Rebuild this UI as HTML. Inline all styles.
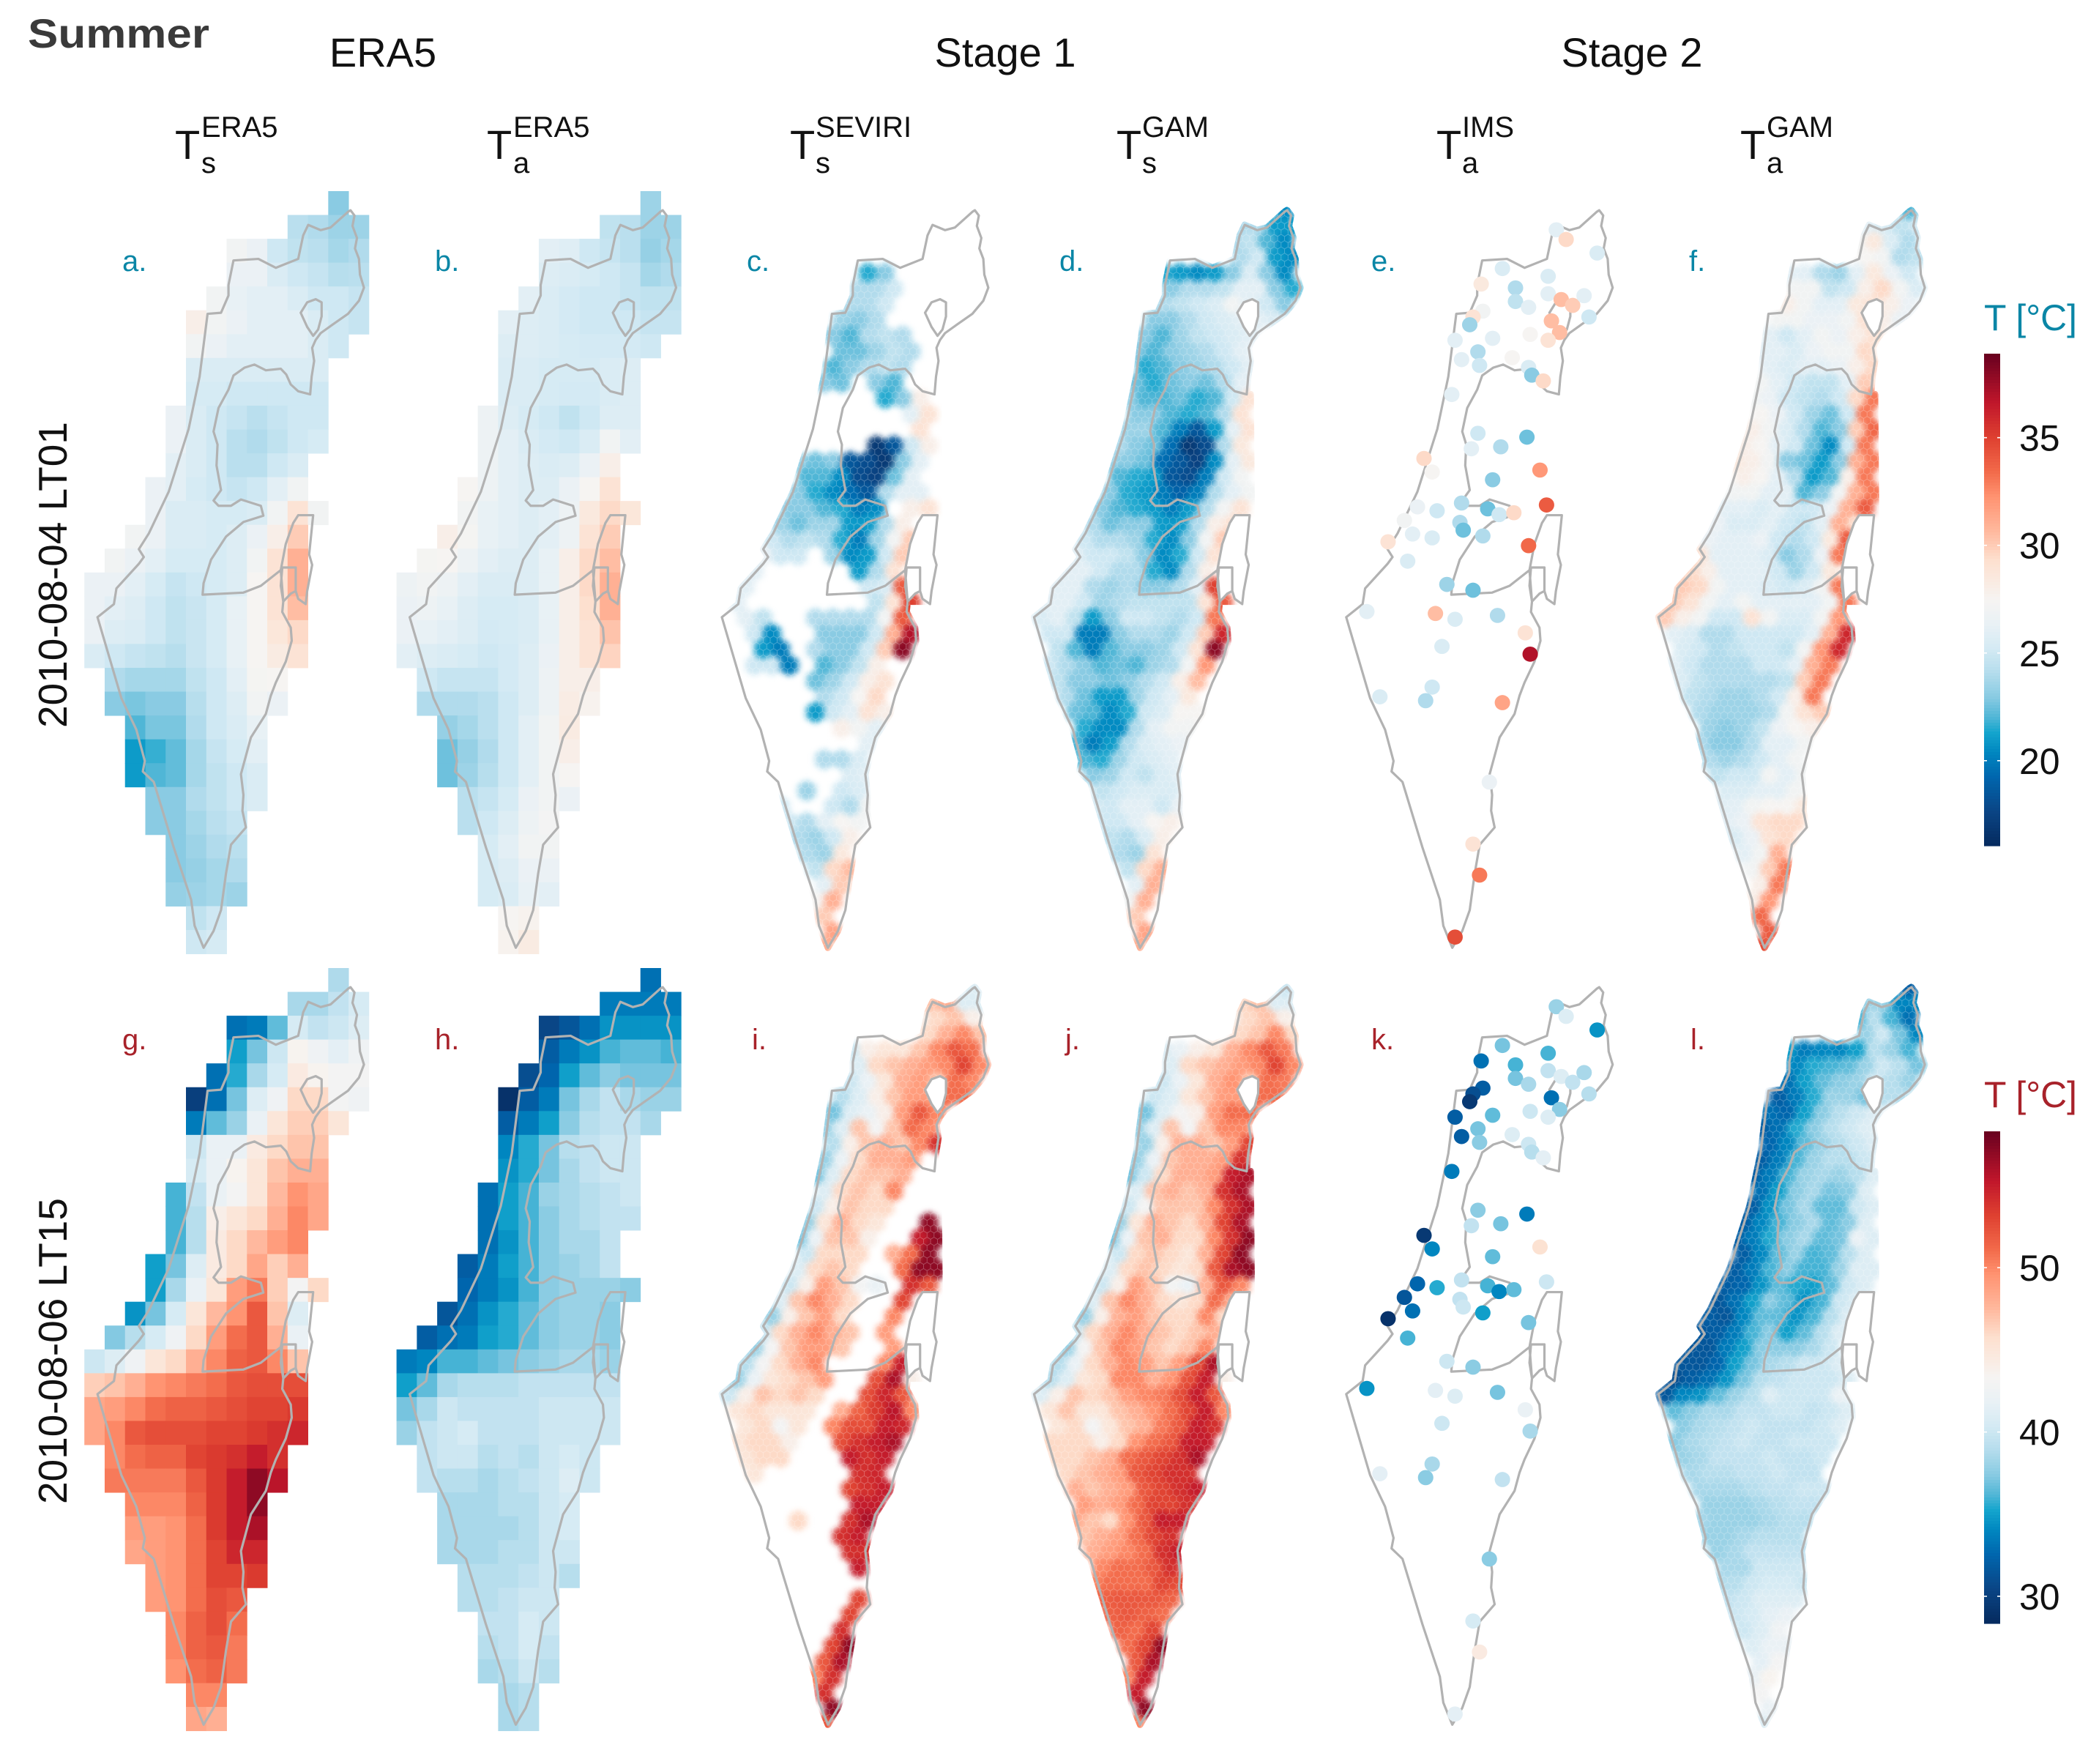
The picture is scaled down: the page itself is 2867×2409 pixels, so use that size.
<!DOCTYPE html>
<html lang="en">
<head>
<meta charset="utf-8">
<title>Summer temperature maps</title>
<style>
html,body{margin:0;padding:0;background:#fff;}
svg{display:block;}
text{font-family:"Liberation Sans",sans-serif;}
</style>
</head>
<body>
<svg id="chart" xmlns="http://www.w3.org/2000/svg" width="2867" height="2409" viewBox="0 0 2867 2409">
<rect width="2867" height="2409" fill="#fff"/>
<defs>
<filter id="soft" x="-10%" y="-10%" width="120%" height="120%" color-interpolation-filters="sRGB"><feGaussianBlur stdDeviation="6.5 5.5"/></filter>
<pattern id="hexMesh" patternUnits="userSpaceOnUse" width="14" height="24">
<path d="M7,0L14,4L14,12L7,16L7,24M7,16L0,12L0,4L7,0" fill="none" stroke="#fff" stroke-width="1.3" stroke-opacity="0.28"/>
</pattern>
<mask id="landMask" maskUnits="userSpaceOnUse" x="-100" y="0" width="900" height="1700">
<g fill="#fff" stroke="#fff" stroke-width="13" stroke-linejoin="round">
<path id="maskMain"/>
<polygon points="484,474 492,474 494,705 490,800 480,870 430,870 268,857 290,545 330,438 372,417 425,425 445,455"/>
</g>
<g fill="#000"><path id="maskLakes"/></g>
</mask>
</defs>

<text x="38" y="65" font-size="56" font-weight="bold" fill="#3a3a3a" textLength="248" lengthAdjust="spacingAndGlyphs">Summer</text>
<text x="523" y="91" font-size="56" text-anchor="middle" fill="#111">ERA5</text>
<text x="1373" y="91" font-size="56" text-anchor="middle" fill="#111">Stage 1</text>
<text x="2229" y="91" font-size="56" text-anchor="middle" fill="#111">Stage 2</text>

<g fill="#111"><text x="239" y="217" font-size="56">T</text><text x="275" y="187" font-size="40">ERA5</text><text x="275" y="236" font-size="40">s</text></g>
<g fill="#111"><text x="665" y="217" font-size="56">T</text><text x="701" y="187" font-size="40">ERA5</text><text x="701" y="236" font-size="40">a</text></g>
<g fill="#111"><text x="1079" y="217" font-size="56">T</text><text x="1114" y="187" font-size="40">SEVIRI</text><text x="1114" y="236" font-size="40">s</text></g>
<g fill="#111"><text x="1525" y="217" font-size="56">T</text><text x="1560" y="187" font-size="40">GAM</text><text x="1560" y="236" font-size="40">s</text></g>
<g fill="#111"><text x="1962" y="217" font-size="56">T</text><text x="1997" y="187" font-size="40">IMS</text><text x="1997" y="236" font-size="40">a</text></g>
<g fill="#111"><text x="2377" y="217" font-size="56">T</text><text x="2413" y="187" font-size="40">GAM</text><text x="2413" y="236" font-size="40">a</text></g>

<text transform="translate(91,785) rotate(-90)" font-size="55" text-anchor="middle" fill="#111">2010-08-04 LT01</text>
<text transform="translate(91,1845) rotate(-90)" font-size="55" text-anchor="middle" fill="#111">2010-08-06 LT15</text>

<g id="maps"></g>

<g id="labels" font-size="40">
<text x="167" y="370" fill="#0a86a6">a.</text>
<text x="594" y="370" fill="#0a86a6">b.</text>
<text x="1020" y="370" fill="#0a86a6">c.</text>
<text x="1447" y="370" fill="#0a86a6">d.</text>
<text x="1873" y="370" fill="#0a86a6">e.</text>
<text x="2307" y="370" fill="#0a86a6">f.</text>
<text x="167" y="1433" fill="#a8222a">g.</text>
<text x="594" y="1433" fill="#a8222a">h.</text>
<text x="1027" y="1433" fill="#a8222a">i.</text>
<text x="1455" y="1433" fill="#a8222a">j.</text>
<text x="1873" y="1433" fill="#a8222a">k.</text>
<text x="2309" y="1433" fill="#a8222a">l.</text>
</g>

<text x="2710" y="451" font-size="50" fill="#0a86a6" textLength="127" lengthAdjust="spacingAndGlyphs">T [°C]</text>
<text x="2710" y="1512" font-size="50" fill="#a8222a" textLength="127" lengthAdjust="spacingAndGlyphs">T [°C]</text>
<g id="legends"></g>
</svg>

<script>
const _ = null;

/* Colour bar domains and tick labels */
const topDomain = [16.05, 38.9];
const bottomDomain = [28.35, 58.3];
const topTicks = [20, 25, 30, 35];
const bottomTicks = [30, 40, 50];

/* ERA5 grid: first occupied column of each row */
const eraFirstCol = [12,10,7,7,6,5,5,5,5,4,4,4,3,3,2,1,0,0,0,0,1,1,2,2,2,3,3,4,4,4,5,5];

const eraTsMorning = [
[23],
[24.3,24,23.5,23.5],
[27,26.5,25,24.5,24.3,23.7,24],
[26.5,26.5,25.5,25,24.7,24.2,24.3],
[27,26.3,26,26,25.5,25,25,24.7],
[28,27,26.5,26,26,26,25.5,25,24.7],
[27,26.5,26,26,26,26,25.5,25],
[25.5,25.5,25.5,25.5,25.5,25.5,25.5],
[25.3,25.3,25,25,25,25,25],
[26.5,25.5,25,24.7,24.3,24.7,25,25],
[26.5,25.5,25,24.3,24,24.5,25,25.3],
[26,25.5,25,24.3,24.3,25,25.5],
[26.5,26,25.3,25,24.7,25,26,27],
[26.5,25.5,25.5,25.3,25.3,25.5,27,29,27],
[27,26.5,25.5,25.5,25.3,25.7,26.5,28,30],
[27,26.5,26,25.3,25.3,25.3,25.7,27,29,31],
[26.5,26.5,26,25.3,24.7,25,25.3,25.7,27.5,29,31],
[26.5,26,25.7,25,24.5,24.8,25.3,26.3,27.5,29,30.5],
[26.5,25.7,25.5,25,24.5,24.8,25.3,26.3,27.5,28.7,29.5],
[25.5,25,24.7,24.5,24.2,24.8,25.3,26.3,27.5,28.3,29],
[24,23.7,23.7,23.7,24.5,25,26,27.3,27.5],
[23,22.7,23,23,24.2,25,25.7,27,26.5],
[22,22.7,22.7,24,25,25.5,26.3],
[21,21.7,22.3,23.7,24.7,25.3,26],
[21,22,22.3,23.7,24.5,25,25.5],
[23,23,24,24.5,25,25.5],
[23,23,23.7,24.3,24.7],
[23,23.5,24,24.3],
[23,23.3,23.7,24],
[23.3,23.5,23.7,23.5],
[24.5,25],
[25,25.3]];

const eraTaMorning = [
[23.5],
[24.5,24.3,23.5,23.5],
[26,25.8,25,24.7,24.3,23.3,23.7],
[25.7,25.5,25.3,25,24.7,23.7,24],
[26,25.5,25.2,25,25,24.7,24.5,24.5],
[26,25.7,25.5,25.2,25,25,25,24.7,24.7],
[25.7,25.7,25.5,25.3,25.2,25.2,25.2,25],
[25.5,25.5,25.3,25.3,25.3,25.5,25.7],
[25.5,25.5,25.3,25.2,25.2,25.5,25.7],
[26.7,25.7,25.3,25,24.5,25,25.7,25.7],
[26.7,26,25.5,25.2,25,25.5,27,26],
[26.7,26,25.7,25.5,25.7,26.5,28],
[27.5,26.7,26,25.7,25.7,26.5,27.5,29],
[27,26.3,26,25.7,26,26.7,28.5,29.5,28.7],
[28,27.3,26.3,26,25.7,26,26.7,29,30],
[27.3,27.5,26.7,26,25.7,25.7,26.3,28,29.5,30.5],
[26.7,27,26.7,26,25.5,25.5,25.7,26.3,28,29.5,31],
[26.5,26.7,26.3,25.7,25.3,25.3,25.5,26.3,28,29.3,31],
[26.5,26.3,26,25.7,25.2,25.3,25.5,26.3,28,29,30.3],
[26,25.7,25.5,25.3,25,25.2,25.7,26.5,28,29,29.7],
[25,24.7,24.7,24.7,25.2,25.7,26.7,28,28],
[24,24,24,24.3,25,25.7,26.7,28.2,27.7],
[23.3,23.7,24.3,25,26,27,28.3],
[22.5,23.3,24,25,26,27,28],
[22.5,23.5,24.2,25,26,27,27.5],
[24.3,24.7,25.3,26.5,27,26.5],
[24.3,25,25.7,26.7,27.2],
[25.3,26,27,27],
[25.3,25.7,26.5,26.5],
[25.3,25.5,26.3,26],
[27.5,27.7],
[27.7,28.3]];

const eraTsAfternoon = [
[38.7],
[38.5,38.5,39.5,40.5],
[33,33.5,36.5,40.5,39.5,40,41],
[35,37,40,43.5,42.5,41.5,42.5],
[33,35.5,38.5,40.5,44.5,43.5,43,43],
[30,33,37,41,42.5,46,46,43,42.5],
[33.5,36.5,38,42,45,46.5,46.5,45],
[40,42,42,44.5,46,47,47],
[40.5,42,43.5,45,47,48,48],
[36,39.5,42,43,45,47.5,49.5,48.5],
[36,39,44,45,46,48,50,48.5],
[36,39,44.5,46,47.5,49,50],
[35,37,41,44.5,46,48.5,46.5,48],
[35,38.5,42,45,49,50.5,46.5,43,46],
[34.5,37,40.5,45,47.5,49.5,52,47,41],
[37.3,39,40.5,42.5,46,49,51,52,48,42],
[40,41,42.5,45,46,48,50,51.5,52,50,47],
[46.5,47,48,49.5,50,50.5,51,52,52.5,52.5,52.5],
[48.5,49,50,51,51.5,51.5,52,52.5,53,53,53.5],
[48.5,50,52,52.5,52.5,52.5,53,53,53.5,54,54.5],
[50,51,51.5,51.5,53,53.5,54,55,54],
[50.5,50.5,50.5,50.5,52,53.5,55,57,55.5],
[50,50,50,51.5,53.5,55,57],
[49,49,49.5,51,53.5,55,56],
[48.5,49,49.5,51,53,54.5,54.5],
[49,49.5,51,53,53,53.5],
[49,49.5,51,52.5,52],
[50,51.5,52.5,51],
[50,51.5,52,50.5],
[49.5,51,51.5,50.5],
[50,50],
[48.5,48]];

const eraTaAfternoon = [
[33],
[33.5,33.5,33.5,33.5],
[30.5,31.5,33,34.5,34.5,34.5,34.5],
[32,33.5,34.5,36,36.5,36.5,36],
[31,32.5,35,36.5,37.5,37,37,37],
[29,32,33.5,37,38.5,39.5,38.5,38,38],
[32,33.5,35,37.5,39,39.5,39.5,38.5],
[34,35.5,37,39,39.5,40,40],
[34.5,35.5,37,38.5,39.5,40,40],
[33,35,36,38,38.5,39,39.5,40],
[33,35,36,37.5,38.5,39,39.5,39.5],
[33,34.5,36,37.5,38.5,38.5,39.5],
[32,33.5,35,36,37.5,38,38.5,39.5],
[32.5,33.5,34.5,36,37.5,38,38,38,37.5],
[31.5,33,34.5,35.5,36.5,37.5,38,38,37.5],
[32,33,33.5,35,35.5,36.5,37.5,38,38,37.5],
[33.5,34,36,36,36.5,37,37.5,38,38.5,38.5,38],
[35,36.5,38.5,39,39,39,39.5,39.5,39.5,39.5,39.5],
[37,38.5,40,39.5,39.5,39.5,39.5,40,40,40,40],
[38,39.5,40,40.5,39.5,39.5,39.5,40,40,40,40],
[39.5,40,40,39,39.5,39,40,40.5,40],
[39.5,39,39,38.5,39,39.5,40,41,40],
[38.5,38.5,38.5,39,39,40,40.5],
[38.5,38.5,38.5,38.5,39,40,40.5],
[38.5,38.5,38.5,39,39,40,40],
[39,39,39,39.5,40,39],
[39,39,39.5,40,40],
[39.5,39.5,40.5,40],
[39,39.5,40.5,39.5],
[38.5,39,40,39],
[38.5,39],
[38.5,39]];

/* Hex grid: first occupied column of each row */
const hexFirstCol = [16,13,13,13,9,9,9,8,8,7,8,7,7,7,7,6,6,6,6,5,5,4,4,3,3,2,2,2,3,2,3,3,4,4,4,4,5,5,5,5,6,6,7,7,7,7,8,7];

const seviriMorning = [
[_],
[_,_,_,_],
[_,_,_,_],
[_,_,_,_],
[_,21.5,23,_,_,_,_,_],
[24,24,25,_,_,_,_,_],
[24,24,25,_,_,_,_,_],
[23.5,23,24,_,_,_,_,_],
[23,22,24,24.5,24,_,_],
[_,22.5,22.5,23.5,24.5,24,_],
[22,23,24,24.5,24,_,_],
[23,22.5,_,23,22,_,_],
[_,_,_,_,21.5,23,28,_],
[_,_,_,_,_,26,29],
[_,_,_,_,_,_,29,_],
[_,_,_,_,17,18.5,25,28],
[23.5,22.5,23,18.5,18,17,23,26,_],
[22,22,20.5,18,17.5,22.5,26,_],
[23,21.5,20.5,19.5,18.5,24,26,26,_],
[23,23,22,21.5,20,20.5,_,28,29],
[23.5,22.5,23.5,23.5,21,21,24,28,_],
[25,24,24.5,24,21.5,20,23.5,27,30],
[26.5,25,25,_,23.5,20.5,21,25,30],
[26,_,_,_,_,_,21,24,29],
[26,_,_,_,_,_,_,25,25.5,34],
[26,_,_,_,_,_,_,_,24.5,29,35],
[_,26,24.5,_,_,24,24,24,24,27,34],
[_,25,20.5,_,_,23,23,23,25,31,37],
[_,21,20,_,24,23,23,25,30,38],
[_,25,25,20,_,22,23,24.5,28,_],
[_,_,_,_,22.5,23.5,25,28,29],
[_,_,_,_,24,25,27.5,29.5],
[_,_,_,21,25,26,29,28],
[_,_,_,_,28,27,26],
[_,_,_,_,_,_,26],
[_,_,_,24,24,25.5],
[_,_,_,_,25.5,26],
[_,23.5,_,25,25.5],
[25,_,_,25,24,27],
[25,24,26,27.5,27],
[24,23.5,25,28],
[24,23.5,28.5],
[24.5,29.5,30.5],
[26,30],
[27.5,31],
[30],
[31.5],
[31]];

const gamTsMorning = [
[20.5],
[24,24,21,21],
[24,24.5,22,20.5],
[24,25,21,20.5],
[21.5,21,20.5,21,23,25.5,23,20.5],
[23,24,24,24.5,26,26,23,21.5],
[24,24.5,25,25.5,27,26,25,23],
[23,23,24,25,25.5,26,26,25.5],
[23,22,23.5,24.5,25,25.5,26],
[23,22,23,23.5,24,25,26],
[21.5,22,23,23.5,24,25,26],
[22.5,21.5,22.5,23,22.5,24,26],
[23.5,22,22,22.5,21.5,22,25,29],
[23,23,22,21.5,22,24,29],
[23.5,23.5,22,20,18.5,21,26,29],
[24,23,22.5,19.5,17,18,24,28.5],
[23.5,23,22.5,19.5,18.5,17.5,20.5,26,28.5],
[22,21.5,21,18.5,18,20,25,27],
[23,21.5,21,20,19,20,24,26,27],
[23,22,21.5,21,20,21,24,27,29],
[24,22.5,23,23,21,21,24,28,29],
[25,24,24,23.5,21.5,20.5,23,27,30],
[26,25,25,24.5,23,20.5,21.5,25,29],
[26,26,25,24,24,21.5,20.5,24,28],
[26,26,24,23.5,24,23,23,24,26,35],
[26,26,25,23.5,24,24.5,24.5,24.5,24.5,29,34],
[25.5,26,24.5,21,23,25,25,24.5,24,25,33],
[25,25,20,20,23,24,24,23.5,25,30,36],
[24.5,22,20,22,23,23,23.5,25,29,38],
[25,24,23,22,22.5,22,23.5,24,27,32],
[24.5,23,23,22.5,23,24,25,28,30.5],
[24,22.5,21,21,23.5,25,26,28.5],
[22.5,22,20.5,21.5,25,25.5,27.5,27.5],
[21.5,20.5,20.5,24,26,27,27],
[22,20,21,24,25.5,26,26.5],
[22,21.5,23.5,25,25.5,26],
[23,23.5,25,24.5,25.5,26],
[24.5,25,25.5,25.5,25.5],
[25.5,25,26,26,25,26.5],
[25,25,26,27.5,28],
[24.5,24,25.5,28],
[24,23.5,29],
[24.5,29.5,31],
[26,31],
[27,31],
[30],
[31.5],
[31]];

const gamTaMorning = [
[22],
[26,25.5,24.5,25],
[27,28.5,25.5,24],
[27.5,27,24,24.5],
[26,26,24,23.5,26,28.5,26.5,25],
[27,27,24.5,25,28,29.5,27,25.5],
[28,27,26,26,28.5,29,28,26.5],
[27,27,26.5,26.5,27,29,28,26.5],
[26,25,26,27,26.5,28,29],
[26,26,25.5,26.5,27,27,29.5],
[26,25.5,26,26,26.5,28,29.5],
[27,26,25,24.5,24.5,26,30],
[27,26.5,25,24.5,24,25,29.5,33],
[27.5,26.5,25,23.5,22.5,25,33],
[28,27,25.5,24,22,23,30,33.5],
[28,27.5,26,25,22.5,20.5,25,33],
[28.5,28,27,23,22.5,21,23,31,33],
[28,27.5,26,24,21,22,28,33],
[27,27,26,26,22,23,27,31,33],
[26,26,25.5,26,25,25,26.5,31,34],
[26.5,25.5,25.5,26,25,24.5,26,31,29],
[26.5,26,26,26.5,25,24,25,28.5,34],
[29,26,26,26,25.5,23,24,26.5,33],
[29.5,28,26,26,26,25,23.5,25,28.5],
[30,29.5,27,26,26,25.5,25,25.5,27,33],
[30,29,27,26,27,26,26,26,26,27,33],
[30,28,27,25,25,29,27,25.5,25.5,27,32],
[26,25.5,24,24,25,25,25,25,26,31,36],
[25.5,25,24,24.5,25,25,24.5,27,32,36],
[26,25,24,24,24,25,25,26,31,33],
[25.5,24.5,24,24,24,24,24.5,30,33],
[24.5,24,23.5,23.5,24,25,28,33],
[24,23.5,23.5,23.5,24,27,29,30],
[23.5,23,23.5,24.5,26.5,27.5,28],
[24,23,23,24,26,26,27],
[24,23.5,24,25,26,27],
[24.5,25,25,27,26,27],
[25.5,25.5,26,26,27],
[26,26,27,27.5,27.5,28.5],
[26,26.5,29,29.5,29.5],
[25.5,26.5,29,29.5],
[26,27,31],
[27,30,33],
[28,33],
[28,32],
[33.5],
[34],
[34.5]];

const seviriAfternoon = [
[41],
[47,48,41,41],
[44,46,47,44],
[46,48,50,47],
[40,44,45,45,47,50,52,51],
[41,46,47,48,49,50,53,50],
[40,42,45,48,49,47,51,50],
[39,41,44,47,49,49,51,51],
[37,41,42,44,49,52,50],
[38,41,47,43,47,51,50],
[39,44,47,48,47,50,54],
[38,42,46,48,48,49,_],
[37,41,46,47,47,48,_,_],
[41,46,47,46,50,_,_],
[40,44,47,46,46,_,_,_],
[38,45,48,46,45,_,_,57],
[37,42,47,47,44,_,_,55,57],
[40,46,46,46,_,48,51,57],
[41,46,47,46,_,_,51,57,57],
[40,44,49,47,43,42,_,54,52],
[41,47,50,48,46,_,_,53,_],
[38,44,47,49,46,_,_,50,_],
[40,46,48,50,48,47,_,49,_],
[38,43,47,49,49,47,_,_,49],
[39,43,46,48,50,_,_,_,50,55],
[38,42,45,46,47,49,_,_,52.5,56,44],
[40,44,47,46,47,46,_,_,52.5,54.5,52],
[45,46,45,45,45,_,48,51.5,53.5,55.5,50],
[45,46,43,45,_,50,52.5,52.5,55,54.5],
[45,46,46,44,_,_,52.5,54,55,56],
[45,46,46,_,_,_,55,54,55],
[45,_,_,_,_,_,54,54.5],
[_,_,_,_,_,53,54,55],
[_,_,_,_,_,55,55],
[_,_,46,_,_,54,56],
[_,_,_,_,54,55],
[_,_,_,_,54,54],
[_,_,_,_,55],
[_,_,_,_,_,_],
[_,_,_,_,53],
[_,_,_,53],
[_,_,54],
[_,53,57],
[52,56],
[50,54],
[54],
[57],
[52]];

const gamTsAfternoon = [
[40],
[46,47,41,41],
[44,46,47,44],
[46,47,50,46],
[41,42,44,45,48,50,52,50.5],
[41,46,47,48,49,50,53,50],
[40,42,45,48,49.5,47,51,50.5],
[40,41,45,47,49,49,51,51],
[37,41,43,44,49,51,51],
[38,41,47,43,47,50,50],
[38,44,48,48,47,49,53],
[38,42,47,48,48,49,54],
[37,40,46,48,48,49,55,56],
[41,47,48,47,48,54,56],
[40,43,47,47,47,50,54,56],
[38,45,48,47,46,48,53,56],
[37,42,47,48,46,46,50,54,57],
[40,46,47,46,45,48,53,57],
[41,46,47,46,45,46,52,56,57],
[40,44,49,47,43,42,48,52,50],
[41,47,50,48,46,45,46,51,48],
[38,44,48,49,47,46,46,50,46],
[40,46,48,50,48,47,46,47,48],
[38,43,47,50,49,47,46,47,50],
[39,42,46,48,50,49,47,49,52.5,56],
[39,41,45,46,50,50,48,49.5,52.5,55,44],
[41,44,47,46,47,49,50,50.5,52.5,55,52],
[45,47,45,45,47,48,49.5,51,53,55,50],
[45,46,43,45,47,48,50.5,52,55,54],
[46,46,46,44,46,49.5,51,52,55,55],
[46,46,47,48,51,52,53,54,56],
[46,47,48,49,52,53,54,54],
[48,47,48,49,52,53,54,55],
[49,48,49,51,53,53,54],
[48,47,46,49.5,52,55,55],
[47,48,49,51,53,54],
[48,49,50,51,54,55],
[50,51,51,52,54],
[50,51,51,51,53,52.5],
[51.5,52,52,52,51.5],
[51.5,52,51.5,51],
[51.5,51,53],
[51,53,57],
[52,56],
[50,55],
[55],
[57],
[50]];

const gamTaAfternoon = [
[32],
[38,38,34,34],
[36,39,36,33],
[38,40,37,34],
[35,33.5,34,34,35,39,38,36],
[34,35.5,36,36.5,38,40,39,37],
[33,35,36.5,37.5,38,40,39,38],
[32,33.5,35.5,38,38,37,39,39],
[33,32.5,35,37.5,39,40,41],
[32,33,35.5,37.5,39,40,41],
[32.5,34,36.5,38,39,40,41],
[32,33.5,36,38,39,39,40],
[32,33.5,36,38,38.5,38,39,41],
[33,35,37.5,38.5,37,37.5,41],
[32,34.5,37,38.5,36.5,36.5,40,41],
[32,34,36,37.5,38.5,36.5,37.5,41],
[32,33.5,35.5,37.5,38.5,36.5,37,42,41],
[32,34,36.5,38,36,36.5,39,41],
[32,33.5,36,37.5,36,36,38,41,41],
[32,32.5,34.5,36.5,35.5,35,36.5,40,41],
[31.5,33,35,37.5,36.5,34.5,36,40,41],
[32,31.5,34,36.5,36.5,34.5,36,39,41],
[31.5,32,33.5,36,37.5,35,36.5,39,41],
[31.5,31.5,33.5,35,37.5,37.5,37.5,38.5,40],
[31.5,31.5,32.5,35,37,38.5,39,40,40,41],
[31,32,33,34.5,37,39,39.5,40,40,40,41],
[31.5,34,34.5,36.5,38,39,41,40,40,40,42],
[36.5,37.5,38.5,38.5,39.5,39.5,40,40,39.5,40,41],
[37.5,38.5,39,39.5,40,39.5,39.5,39.5,40,41],
[37.5,38.5,39,39.5,40,39.5,39.5,40,40,40],
[38,38.5,39.5,39.5,39.5,40,39.5,39.5,40],
[38.5,39,39,39.5,39.5,40,39.5,39.5],
[38.5,38.5,38.5,39,39.5,39.5,40,40],
[38,38,38,38.5,39,39.5,39.5],
[38.5,38,38,38,38.5,39,39],
[38,38,38.5,39,39,39],
[38,38.5,39.5,39.5,39.5,39.5],
[38.5,38.5,40,40,40],
[39,39,40,40.5,40.5,40],
[39.5,40,41,41,41],
[40,40.5,41.5,42],
[40,41,42.5],
[41,42,42],
[41.5,43],
[42,43.5],
[43],
[42],
[41]];

/* Weather stations */
const stationLon = [35.56,35.62,35.81,35.23,35.10,35.51,35.31,35.51,35.59,35.66,35.73,35.31,35.39,35.11,35.05,35.76,35.53,35.03,35.58,35.51,35.17,34.94,35.40,35.08,34.98,35.29,35.09,35.39,35.41,35.48,34.92,35.08,35.04,35.22,35.38,34.75,34.80,35.46,35.17,35.50,34.71,34.83,34.98,35.14,35.21,35.30,34.63,34.97,34.99,34.68,34.80,35.11,34.53,35.39,34.65,34.89,35.05,34.40,34.82,34.94,35.20,35.37,34.86,35.40,34.80,34.76,34.48,35.23,35.15,35.05,35.09,34.94];
const stationLat = [33.20,33.15,33.08,33.00,32.92,32.96,32.90,32.87,32.84,32.81,32.86,32.83,32.80,32.78,32.75,32.75,32.73,32.71,32.67,32.63,32.64,32.63,32.66,32.57,32.53,32.54,32.50,32.49,32.45,32.42,32.35,32.15,32.07,32.08,32.13,32.02,31.95,31.96,31.91,31.78,31.77,31.75,31.79,31.76,31.73,31.74,31.70,31.69,31.65,31.63,31.61,31.62,31.59,31.57,31.49,31.37,31.34,31.23,31.22,31.19,31.21,31.12,31.05,31.01,30.84,30.77,30.79,30.76,30.35,30.03,29.87,29.55];
const imsMorning = [26,29.5,25.5,25.5,28.5,25.5,24,26,30.5,30,26,24.5,26,27,29,25,30.5,23.5,30.5,29,26,26,27.5,24,26,27.5,25,25.5,23,29.5,26,25,26,24,22.5,29.5,27.5,32,23,34,26.5,25,24,22.5,25,29.5,27,24,22.5,26,25.5,24,29,33.5,25.5,23.5,22.5,26,30.5,25.5,24,29,25.5,37,25,24,25.5,31.5,26.5,29,33,34.5];
const imsAfternoon = [38,41,34.5,37,33,36,36,39.5,41,39.5,38.5,37,38.5,32,31,39,33,29.5,37.5,41,36.5,32,40,37,32,41,37.5,40,39,41.5,33.5,37.5,39.5,37,33.5,29.5,34,45.5,36.5,40,32.5,35.5,39.5,36,34,36.5,31.5,39.5,40,33,_,35,29,37,36,40,37.5,34.5,41.5,41,37,42,40,38.5,38.5,37.5,41.5,39.5,37.5,40.5,44.5,41.5];

/* Scales */
const NS = 'http://www.w3.org/2000/svg';
const paletteStops = [[0,'#67001f'],[0.1,'#c0162b'],[0.17,'#de4030'],[0.24,'#f26a4a'],[0.29,'#ff9270'],[0.36,'#ffb89d'],[0.42,'#fde0cf'],[0.48,'#f8efe9'],[0.5,'#f6f4f2'],[0.55,'#e9f1f5'],[0.6,'#d4eaf4'],[0.65,'#b3dcec'],[0.7,'#86cae2'],[0.74,'#4fb6d6'],[0.77,'#14a5cd'],[0.81,'#0087c0'],[0.86,'#0066ae'],[0.93,'#0a4585'],[1,'#052a5e']];
function hexToRgb(h){return [parseInt(h.slice(1,3),16),parseInt(h.slice(3,5),16),parseInt(h.slice(5,7),16)];}
function colorOf(value,domain){
  let f=(domain[1]-value)/(domain[1]-domain[0]);
  f=Math.max(0,Math.min(1,f));
  for(let i=1;i<paletteStops.length;i++){
    if(f<=paletteStops[i][0]){
      const a=paletteStops[i-1],b=paletteStops[i];
      const k=(f-a[0])/(b[0]-a[0]);
      const ca=hexToRgb(a[1]),cb=hexToRgb(b[1]);
      return 'rgb('+ca.map((c,j)=>Math.round(c+(cb[j]-c)*k)).join(',')+')';
    }
  }
  return paletteStops[paletteStops.length-1][1];
}
const colX = [94.4,520.8,947.2,1373.6,1800,2226.4];
const rowY = [200,1261];
const SX = 1/1.47, SY = 1/1.4;
const eraX = c => 115.2-94.4+c*27.76;
const eraY = r => 61+r*32.55;
const hexX = (c,r) => 35*c+(r%2?17.5:0);
const hexY = r => 122+30*r;
const lonX = lon => (lon-34.1)*328;
const latY = lat => (33.63-lat)*370.5;

const outlineMain = 'M565,122L573,132L569,152L578,175L574,195L582,215L584,245L592,270L582,295L560,320L530,340L505,357L495,370L488,385L492,410L487,440L484,474L460,468L445,455L436,436L425,425L395,428L372,417L352,423L330,438L320,465L300,500L290,545L298,570L296,610L305,657L290,677L300,687L325,687L345,675L385,687L390,706L350,718L315,746L285,790L270,835L268,857L350,853L385,840L425,810L428,805L425,840L430,870L428,890L445,920L447,945L435,985L415,1025L405,1050L395,1085L365,1130L355,1165L345,1200L350,1240L348,1270L355,1302L325,1335L315,1390L305,1460L290,1500L270,1532L252,1490L245,1440L210,1340L170,1215L148,1195L152,1175L135,1115L105,1055L57,900L90,875L95,845L140,798L150,785L140,770L160,740L200,660L240,540L262,440L278,320L305,318L320,285L320,265L330,218L380,215L415,232L460,215L470,170L480,150L505,160L525,155L560,125Z';
const outlineDeadSea = 'M460,705L490,705L482,780L488,800L478,850L475,875L460,865L455,850L445,855L430,870L425,810L435,760L450,720Z';
const outlineDeadBox = 'M428,805L455,805L455,850';
const outlineKinneret = 'M478,298L495,292L507,298L507,325L500,350L490,362L478,345L465,318Z';

document.getElementById('maskMain').setAttribute('d',outlineMain);
document.getElementById('maskLakes').setAttribute('d',outlineDeadSea+outlineKinneret);

const mapsRoot = document.getElementById('maps');
function mk(tag,parent){const e=document.createElementNS(NS,tag);parent.appendChild(e);return e;}

function drawOutline(g,name){
  const o=mk('path',g);
  
  
  o.setAttribute('d',outlineMain+outlineDeadSea+outlineDeadBox+outlineKinneret);
  o.setAttribute('fill','none');
  o.setAttribute('stroke','#b2b2b2');
  o.setAttribute('stroke-width','3.2');
  o.setAttribute('stroke-linejoin','round');
  o.setAttribute('vector-effect','non-scaling-stroke');
}
function panelGroup(col,row,name){
  const g=mk('g',mapsRoot);
  
  
  g.setAttribute('transform','translate('+colX[col]+','+rowY[row]+')');
  return g;
}
function localGroup(parent){
  const g=mk('g',parent);
  g.setAttribute('transform','scale('+SX+','+SY+')');
  return g;
}
function drawEra(col,row,rows,domain,name){
  const g=panelGroup(col,row,name);
  const cells=mk('g',g);
  rows.forEach((vals,r)=>{
    vals.forEach((v,i)=>{
      if(v===null)return;
      const c=eraFirstCol[r]+i;
      const rect=mk('rect',cells);
      
      
      rect.setAttribute('x',eraX(c));
      rect.setAttribute('y',eraY(r));
      rect.setAttribute('width',28.2);
      rect.setAttribute('height',33);
      rect.setAttribute('fill',colorOf(v,domain));
    });
  });
  drawOutline(localGroup(g),name);
}
function drawHex(col,row,rows,domain,name){
  const g=panelGroup(col,row,name);
  const l=localGroup(g);
  const masked=mk('g',l);
  masked.setAttribute('mask','url(#landMask)');
  const soft=mk('g',masked);
  soft.setAttribute('filter','url(#soft)');
  rows.forEach((vals,r)=>{
    vals.forEach((v,i)=>{
      if(v===null)return;
      const c=hexFirstCol[r]+i;
      const x=hexX(c,r),y=hexY(r);
      const p=mk('polygon',soft);
      
      
      p.setAttribute('points',[[0,-21],[18,-10.5],[18,10.5],[0,21],[-18,10.5],[-18,-10.5]].map(q=>(x+q[0])+','+(y+q[1])).join(' '));
      p.setAttribute('fill',colorOf(v,domain));
    });
  });
  const mesh=mk('rect',masked);
  
  
  mesh.setAttribute('x',0);
  mesh.setAttribute('y',90);
  mesh.setAttribute('width',640);
  mesh.setAttribute('height',1460);
  mesh.setAttribute('fill','url(#hexMesh)');
  drawOutline(l,name);
}
function drawStations(col,row,vals,domain,name){
  const g=panelGroup(col,row,name);
  const l=localGroup(g);
  drawOutline(l,name);
  vals.forEach((v,i)=>{
    if(v===null)return;
    const e=mk('ellipse',l);
    
    
    e.setAttribute('cx',lonX(stationLon[i]));
    e.setAttribute('cy',latY(stationLat[i]));
    e.setAttribute('rx',15.5);
    e.setAttribute('ry',14.5);
    e.setAttribute('fill',colorOf(v,domain));
  });
}

drawEra(0,0,eraTsMorning,topDomain,'panel-a-era5-ts');
drawEra(1,0,eraTaMorning,topDomain,'panel-b-era5-ta');
drawHex(2,0,seviriMorning,topDomain,'panel-c-seviri-ts');
drawHex(3,0,gamTsMorning,topDomain,'panel-d-gam-ts');
drawStations(4,0,imsMorning,topDomain,'panel-e-ims-ta');
drawHex(5,0,gamTaMorning,topDomain,'panel-f-gam-ta');
drawEra(0,1,eraTsAfternoon,bottomDomain,'panel-g-era5-ts');
drawEra(1,1,eraTaAfternoon,bottomDomain,'panel-h-era5-ta');
drawHex(2,1,seviriAfternoon,bottomDomain,'panel-i-seviri-ts');
drawHex(3,1,gamTsAfternoon,bottomDomain,'panel-j-gam-ts');
drawStations(4,1,imsAfternoon,bottomDomain,'panel-k-ims-ta');
drawHex(5,1,gamTaAfternoon,bottomDomain,'panel-l-gam-ta');

/* Colour bars */
const legendRoot = document.getElementById('legends');
function drawBar(top,height,domain,ticks,name){
  const g=mk('g',legendRoot);
  
  
  const steps=168;
  for(let i=0;i<steps;i++){
    const r=mk('rect',g);
    r.setAttribute('x',2710);
    r.setAttribute('y',top+height*i/steps);
    r.setAttribute('width',22);
    r.setAttribute('height',height/steps+0.6);
    r.setAttribute('fill',colorOf(domain[1]-(domain[1]-domain[0])*(i+0.5)/steps,domain));
  }
  ticks.forEach(t=>{
    const y=top+height*(domain[1]-t)/(domain[1]-domain[0]);
    [2710,2728].forEach(x=>{
      const m=mk('rect',g);
      
      
      m.setAttribute('x',x);
      m.setAttribute('y',y-0.8);
      m.setAttribute('width',4);
      m.setAttribute('height',1.6);
      m.setAttribute('fill','#fff');
    });
    const label=mk('text',g);
    
    
    label.setAttribute('x',2758);
    label.setAttribute('y',y+18);
    label.setAttribute('font-size','50');
    label.setAttribute('fill','#111');
    label.textContent=String(t);
  });
}
drawBar(483,672,topDomain,topTicks,'colorbar-top');
drawBar(1545,672,bottomDomain,bottomTicks,'colorbar-bottom');
</script>
</body>
</html>
